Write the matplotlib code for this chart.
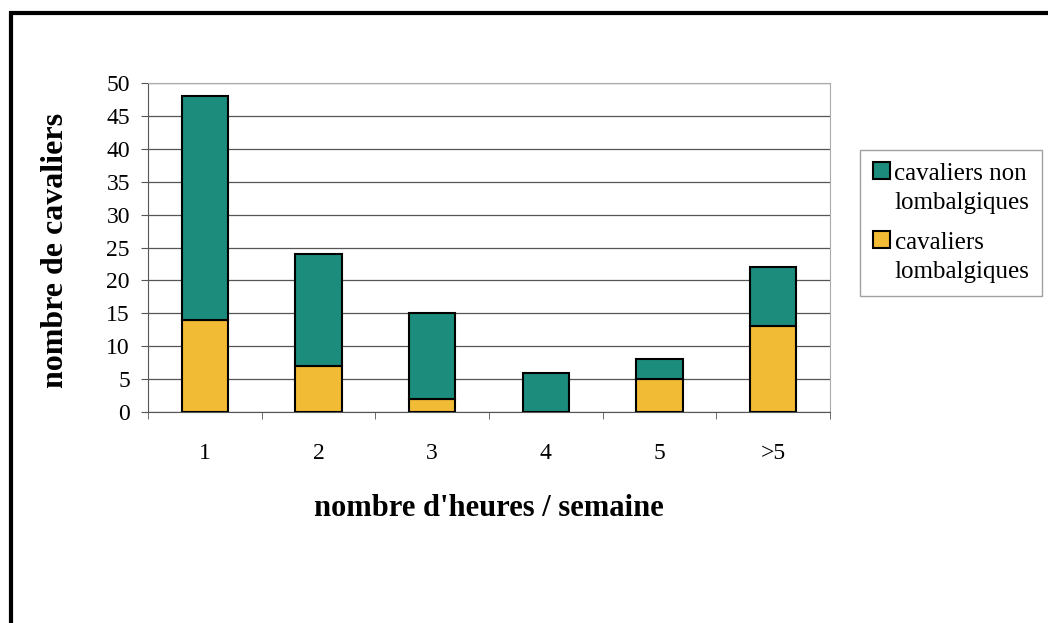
import matplotlib
matplotlib.use('Agg')
import matplotlib.pyplot as plt
from matplotlib.patches import Rectangle
from matplotlib.container import BarContainer
from matplotlib.legend_handler import HandlerPatch, update_from_first_child
import numpy as np

plt.rcParams['font.family'] = ['Liberation Serif', 'DejaVu Serif']

categories = ['1', '2', '3', '4', '5', '>5']
lombalgiques = [14, 7, 2, 0, 5, 13]
non_lombalgiques = [34, 17, 13, 6, 3, 9]

teal = '#1c8c7c'
yellow = '#f2bb35'

fig = plt.figure(figsize=(10.48, 6.23), dpi=100)
# outer frame of the original picture
fig.patches.append(Rectangle((11/1048, -0.05), 1.1, (611+30)/623, transform=fig.transFigure,
                             fill=False, edgecolor='black', linewidth=3))

ax = fig.add_axes([148/1048, 211/623, (830-148)/1048, (412-83)/623])
x = np.arange(len(categories))
w = 0.41
ax.bar(x, lombalgiques, w, color=yellow, edgecolor='black', linewidth=1.5,
       label='cavaliers\nlombalgiques', zorder=3)
ax.bar(x, non_lombalgiques, w, bottom=lombalgiques, color=teal, edgecolor='black',
       linewidth=1.5, label='cavaliers non\nlombalgiques', zorder=3)

ax.set_xlim(-0.5, len(categories) - 0.5)
ax.set_ylim(0, 50)
ax.set_yticks(range(0, 51, 5))
ax.set_xticks(x)
ax.set_xticklabels(categories)
ax.set_xticks(np.arange(-0.5, len(categories)), minor=True)
ax.tick_params(axis='x', which='major', length=0, pad=22, labelsize=17)
ax.tick_params(axis='x', which='minor', length=5, direction='out', color='#555555')
ax.tick_params(axis='y', length=5, labelsize=17, pad=8, color='#555555')
ax.yaxis.grid(True, color='#555555', linewidth=0.9, zorder=0)
for s in ['top', 'right']:
    ax.spines[s].set_color('#aaaaaa')
ax.spines['left'].set_color('#555555')
ax.spines['bottom'].set_color('#555555')

ax.set_ylabel('nombre de cavaliers', fontsize=23, fontweight='bold')
ax.yaxis.set_label_coords(-(148 - 70) / (830 - 148), (412 - 250) / (412 - 83))
ax.set_xlabel("nombre d'heures / semaine", fontsize=22, fontweight='bold')
ax.xaxis.set_label_coords(0.5, -(508 - 412) / (412 - 83))
ax.xaxis.label.set_va('center')


# legend square sits on the first line of the two-line label
def top_box(legend, orig_handle, xdescent, ydescent, width, height, fontsize):
    return Rectangle((-xdescent, -ydescent + 0.7 * fontsize), width, height)


h, l = ax.get_legend_handles_labels()
leg = fig.legend(h[::-1], l[::-1], loc='upper left', bbox_to_anchor=(860/1048, 1 - 150/623),
                 fontsize=18, frameon=True, fancybox=False, edgecolor='#888888',
                 handlelength=0.68, handleheight=0.68, handletextpad=0.2,
                 labelspacing=0.7, borderpad=0.5, borderaxespad=0,
                 handler_map={BarContainer: HandlerPatch(patch_func=top_box,
                                                         update_func=update_from_first_child)})
leg.get_frame().set_linewidth(1.0)
for t in leg.get_texts():
    t.set_linespacing(1.45)

fig.savefig('out.png', dpi=100)
